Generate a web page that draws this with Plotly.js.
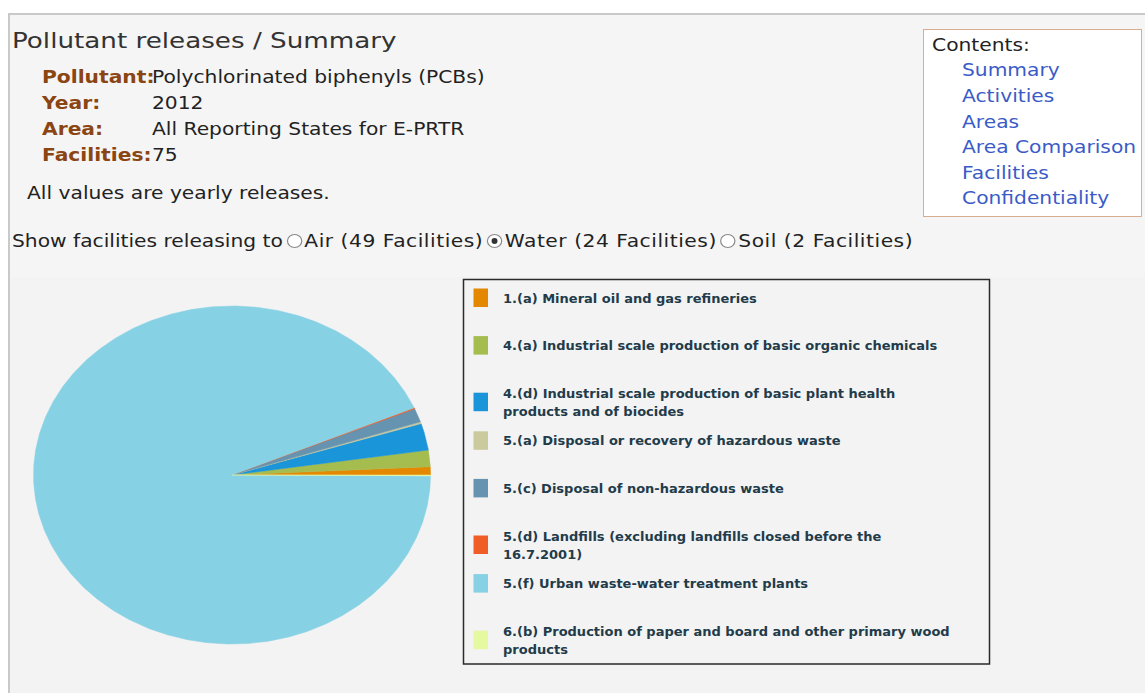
<!DOCTYPE html>
<html>
<head>
<meta charset="utf-8">
<script src="https://cdn.plot.ly/plotly-3.0.1.min.js"></script>
<style>
    body { margin: 0; background: #fff; font-family: "DejaVu Sans", Verdana, sans-serif; color: #222; }
    #page { position: absolute; left: 8px; top: 13px; width: 1137px; height: 680px; background: #f5f5f5;
            border-left: 2px solid #c9c9c9; border-top: 2px solid #c9c9c9; }
    .t { position: absolute; white-space: nowrap; font-size: 17px; line-height: 20px;
         transform: scaleX(1.19); transform-origin: 0 0; }
    .lbl { color: #8b4513; font-weight: bold; }
    .opt { letter-spacing: 0.45px; }
    #contents { position: absolute; left: 923px; top: 29px; width: 219px; height: 188px; background: #fff;
                border: 1px solid #d6ad90; box-sizing: border-box; }
    #contents a { color: #3a5bc7; text-decoration: none; }
    .radio { display: inline-block; width: 11px; height: 12px; border: 1px solid #8a8a8a; border-radius: 50%;
             background: #fff; vertical-align: -1px; margin: 0 2px 0 3px; position: relative; }
    .radio.on::after { content: ""; position: absolute; left: 3px; top: 3px; width: 5px; height: 6px;
                       border-radius: 50%; background: #333; }
    #graph { position: absolute; left: 10px; top: 277px; width: 1135px; height: 416px; }
</style>
</head>
<body>
<div id="page"></div>

<div class="t" style="left:12px;top:27px;font-size:22px;line-height:28px;color:#333">Pollutant releases / Summary</div>

<div class="t lbl" style="left:42px;top:67px">Pollutant:</div>
<div class="t" style="left:152px;top:67px">Polychlorinated biphenyls (PCBs)</div>
<div class="t lbl" style="left:42px;top:93px">Year:</div>
<div class="t" style="left:152px;top:93px">2012</div>
<div class="t lbl" style="left:42px;top:119px">Area:</div>
<div class="t" style="left:152px;top:119px">All Reporting States for E-PRTR</div>
<div class="t lbl" style="left:42px;top:145px">Facilities:</div>
<div class="t" style="left:152px;top:145px">75</div>

<div class="t" style="left:27px;top:183px">All values are yearly releases.</div>

<div class="t" style="left:12px;top:231px">Show facilities releasing to<span class="radio"></span><span class="opt">Air (49 Facilities)</span><span class="radio on"></span><span class="opt">Water (24 Facilities)</span><span class="radio"></span><span class="opt">Soil (2 Facilities)</span></div>

<div id="contents">
    <div class="t" style="left:8px;top:5px;color:#222">Contents:</div>
    <div class="t" style="left:38px;top:30px"><a>Summary</a></div>
    <div class="t" style="left:38px;top:56px"><a>Activities</a></div>
    <div class="t" style="left:38px;top:82px"><a>Areas</a></div>
    <div class="t" style="left:38px;top:107px"><a>Area Comparison</a></div>
    <div class="t" style="left:38px;top:133px"><a>Facilities</a></div>
    <div class="t" style="left:38px;top:158px"><a>Confidentiality</a></div>
</div>

<div id="graph"></div>

<script>
// Activities releasing PCBs to water, 2012 (share of total, %)
const activities = [
    "1.(a) Mineral oil and gas refineries",
    "4.(a) Industrial scale production of basic organic chemicals",
    "4.(d) Industrial scale production of basic plant health<br>products and of biocides",
    "5.(a) Disposal or recovery of hazardous waste",
    "5.(c) Disposal of non-hazardous waste",
    "5.(d) Landfills (excluding landfills closed before the<br>16.7.2001)",
    "5.(f) Urban waste-water treatment plants",
    "6.(b) Production of paper and board and other primary wood<br>products"
];
const shares = [0.78, 1.58, 2.56, 0.17, 1.31, 0.11, 93.37, 0.12];
const colors = ["#e48701", "#a5bc4e", "#1b95d9", "#caca9e", "#6693b0", "#f05e27", "#86d1e4", "#e4f9a0"];

// graph div placement (page pixels) and pie ellipse
const DIV_LEFT = 10, DIV_TOP = 277, DIV_W = 1135, DIV_H = 416;
const CX = 232, CY = 475, RX = 198.5, RY = 169;

function px(x) { return (x - DIV_LEFT) / DIV_W; }
function py(y) { return 1 - (y - DIV_TOP) / DIV_H; }

// slices: start at 3 o'clock, counter-clockwise
let total = shares.reduce((a, b) => a + b, 0);
let data = [];
let start = 0;
shares.forEach(function (v, i) {
    let sweep = v / total * 2 * Math.PI;
    let steps = Math.max(2, Math.ceil(sweep / 0.01));
    let xs = [0], ys = [0];
    for (let k = 0; k <= steps; k++) {
        let t = start + sweep * k / steps;
        xs.push(Math.cos(t));
        ys.push(Math.sin(t));
    }
    xs.push(0); ys.push(0);
    data.push({
        x: xs, y: ys, type: "scatter", mode: "lines", fill: "toself",
        fillcolor: colors[i], line: { color: colors[i], width: 0.5 },
        name: activities[i], hoverinfo: "name", showlegend: false
    });
    start += sweep;
});

// legend drawn as shapes + annotations
let shapes = [{
    type: "rect", xref: "paper", yref: "paper",
    x0: px(463.5), x1: px(989.5), y0: py(279.5), y1: py(664),
    line: { color: "#2a2a2a", width: 1.5 }, fillcolor: "rgba(0,0,0,0)"
}];
let annotations = [];
activities.forEach(function (name, i) {
    let lines = name.split("<br>");
    let top = 298 + 47.6 * i;
    let mid = top + (lines.length - 1) * 9;
    shapes.push({
        type: "rect", xref: "paper", yref: "paper",
        x0: px(473.5), x1: px(488), y0: py(mid - 9.5), y1: py(mid + 9),
        line: { width: 0 }, fillcolor: colors[i]
    });
    lines.forEach(function (ln, j) {
        annotations.push({
            xref: "paper", yref: "paper", x: px(501), y: py(top + 18 * j),
            xanchor: "left", yanchor: "middle", showarrow: false, text: "<b>" + ln + "</b>",
            font: { family: "DejaVu Sans, sans-serif", size: 13, color: "#223b4a" }
        });
    });
});

let layout = {
    width: DIV_W, height: DIV_H,
    margin: { l: 0, r: 0, t: 0, b: 0 },
    paper_bgcolor: "#f3f3f3", plot_bgcolor: "rgba(0,0,0,0)",
    showlegend: false,
    xaxis: { visible: false, fixedrange: true,
             range: [(DIV_LEFT - CX) / RX, (DIV_LEFT + DIV_W - CX) / RX] },
    yaxis: { visible: false, fixedrange: true,
             range: [-(DIV_TOP + DIV_H - CY) / RY, (CY - DIV_TOP) / RY] },
    shapes: shapes,
    annotations: annotations
};

Plotly.newPlot("graph", data, layout, { displayModeBar: false, staticPlot: true });
</script>
</body>
</html>
